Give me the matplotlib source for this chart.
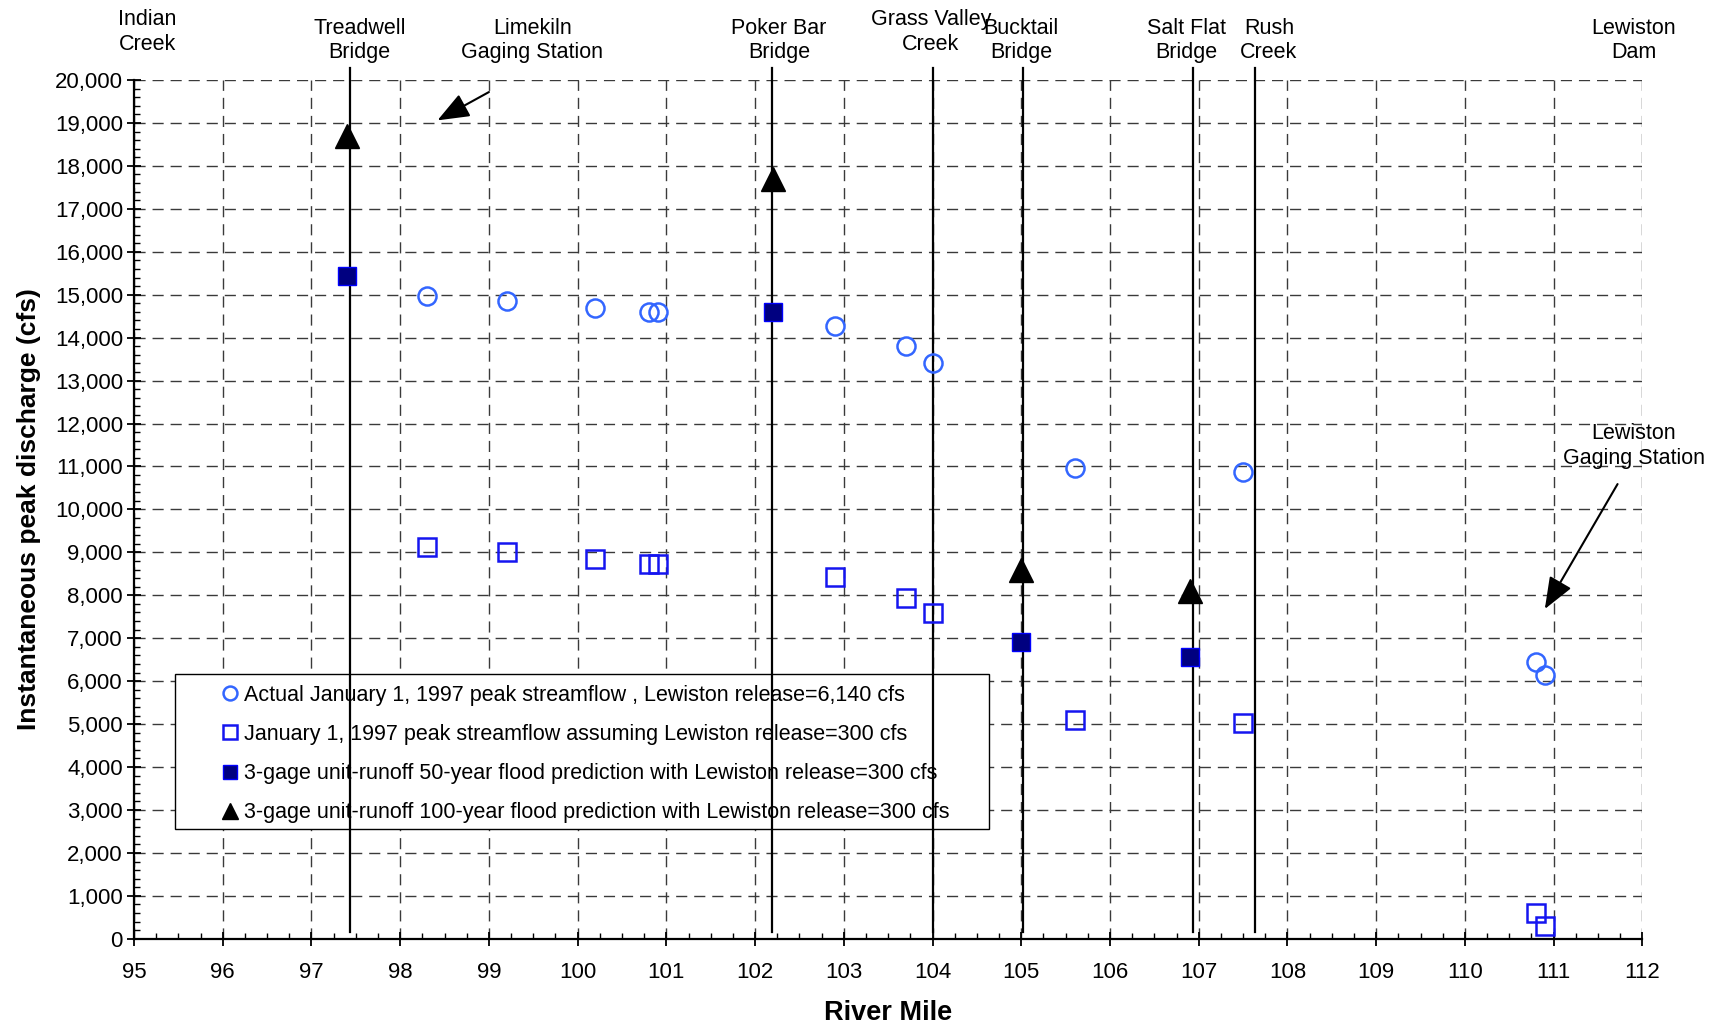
import numpy as np
import matplotlib.pyplot as plt
from matplotlib.ticker import MultipleLocator, FuncFormatter
from matplotlib.patches import Rectangle

plt.rcParams['font.family'] = ['Liberation Sans', 'DejaVu Sans']

# River mile / discharge values
actual_mile = [98.3, 99.2, 100.2, 100.8, 100.9, 102.9, 103.7, 104.0, 105.6, 107.5, 110.8, 110.9]
actual_cfs = [14980, 14850, 14690, 14590, 14590, 14260, 13800, 13420, 10970, 10870, 6450, 6140]
low_mile = [98.3, 99.2, 100.2, 100.8, 100.9, 102.9, 103.7, 104.0, 105.6, 107.5, 110.8, 110.9]
low_cfs = [9130, 9000, 8850, 8740, 8740, 8420, 7930, 7580, 5100, 5030, 610, 300]
q50_mile = [97.4, 102.2, 105.0, 106.9]
q50_cfs = [15430, 14590, 6910, 6560]
q100_mile = [97.4, 102.2, 105.0, 106.9]
q100_cfs = [18700, 17700, 8600, 8090]

# landmark lines (river mile) and labels above the plot
line_miles = [97.43, 102.19, 104.01, 105.02, 106.94, 107.63]
labels = [
    (95.15, 'Indian\nCreek', 'hi'),
    (97.54, 'Treadwell\nBridge', 'lo'),
    (99.49, 'Limekiln\nGaging Station', 'lo'),
    (102.27, 'Poker Bar\nBridge', 'lo'),
    (103.98, 'Grass Valley\nCreek', 'hi'),
    (105.0, 'Bucktail\nBridge', 'lo'),
    (106.86, 'Salt Flat\nBridge', 'lo'),
    (107.79, 'Rush\nCreek', 'lo'),
    (111.9, 'Lewiston\nDam', 'lo'),
]

FS = 15.5

fig = plt.figure(figsize=(17.18, 10.26), dpi=100)
ax = fig.add_axes([0.078, 0.085, 0.878, 0.837])

ax.set_xlim(95, 112)
ax.set_ylim(0, 20000)
ax.xaxis.set_major_locator(MultipleLocator(1))
ax.xaxis.set_minor_locator(MultipleLocator(0.25))
ax.yaxis.set_major_locator(MultipleLocator(1000))
ax.yaxis.set_minor_locator(MultipleLocator(200))
ax.yaxis.set_major_formatter(FuncFormatter(lambda v, p: f'{int(v):,}'))
ax.tick_params(which='major', direction='inout', length=10, width=1.3, labelsize=16, color='black')
ax.tick_params(which='minor', direction='in', length=4, width=1.0)
ax.tick_params(axis='x', pad=12)
ax.tick_params(axis='y', pad=3)

for s in ['top', 'right']:
    ax.spines[s].set_visible(False)
for s in ['left', 'bottom']:
    ax.spines[s].set_linewidth(1.6)

ax.grid(True, which='major', color='#3a3a3a', linestyle=(0, (8, 5)), linewidth=1.0)
ax.set_axisbelow(True)

ax.set_xlabel('River Mile', fontsize=19.5, fontweight='bold', labelpad=12)
ax.set_ylabel('Instantaneous peak discharge (cfs)', fontsize=19, fontweight='bold', labelpad=10)

for m in line_miles:
    ax.plot([m, m], [150, 20280], color='black', linewidth=1.6, zorder=4, clip_on=False)

ax.plot(actual_mile, actual_cfs, linestyle='none', marker='o', markersize=13,
        markerfacecolor='none', markeredgecolor='#3366FF', markeredgewidth=1.8, zorder=5,
        label='Actual January 1, 1997 peak streamflow , Lewiston release=6,140 cfs')
ax.plot(low_mile, low_cfs, linestyle='none', marker='s', markersize=12.5,
        markerfacecolor='none', markeredgecolor='#1515F0', markeredgewidth=1.8, zorder=5,
        label='January 1, 1997 peak streamflow assuming Lewiston release=300 cfs')
ax.plot(q50_mile, q50_cfs, linestyle='none', marker='s', markersize=13.5,
        markerfacecolor='#000080', markeredgecolor='#0000FF', markeredgewidth=1.0, zorder=5,
        label='3-gage unit-runoff 50-year flood prediction with Lewiston release=300 cfs')
ax.plot(q100_mile, q100_cfs, linestyle='none', marker='^', markersize=17,
        markerfacecolor='black', markeredgecolor='black', zorder=5,
        label='3-gage unit-runoff 100-year flood prediction with Lewiston release=300 cfs')

# legend box drawn separately so the entries can sit further in
box = Rectangle((0.0272, 0.128), 0.567 - 0.0272, 0.3085 - 0.128, transform=ax.transAxes,
                facecolor='white', edgecolor='black', linewidth=1.0, zorder=3)
ax.add_patch(box)
leg = ax.legend(loc='upper left', bbox_to_anchor=(0.0585, 0.296), frameon=False,
                fontsize=FS, borderaxespad=0, borderpad=0, labelspacing=0.85,
                handlelength=0.7, handletextpad=0.3)
for h in leg.legend_handles:
    h.set_markersize(10 if h.get_marker() != '^' else 12)
leg.set_zorder(3.5)

for x, txt, lvl in labels:
    y = 21120 if lvl == 'hi' else 20920
    ax.text(x, y, txt, ha='center', va='center', fontsize=FS, linespacing=1.22,
            clip_on=False)
ax.text(111.9, 11480, 'Lewiston\nGaging Station', ha='center', va='center', fontsize=FS,
        linespacing=1.22, zorder=6)

arrow = dict(arrowstyle='-|>,head_length=1.4,head_width=0.55', color='black', linewidth=1.5,
             shrinkA=0, shrinkB=0, mutation_scale=14)
ax.annotate('', xy=(98.42, 19060), xytext=(99.0, 19720), arrowprops=arrow, annotation_clip=False)
ax.annotate('', xy=(110.9, 7680), xytext=(111.72, 10590), arrowprops=arrow, zorder=6)

fig.savefig('out.png', dpi=100)
